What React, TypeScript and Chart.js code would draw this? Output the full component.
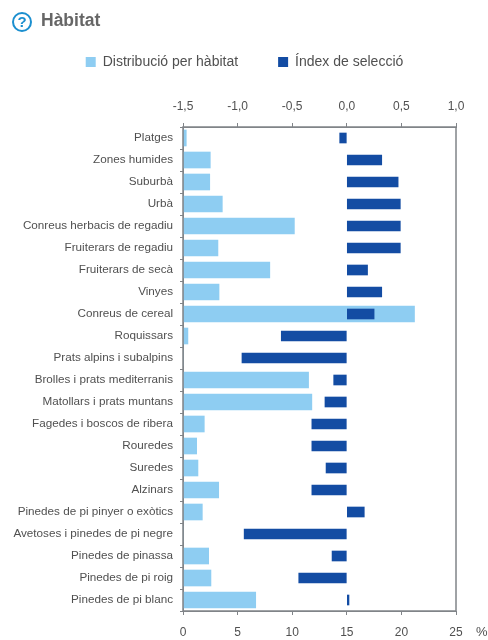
import React, { useEffect, useRef } from "react";
import { Chart, registerables } from "chart.js";

Chart.register(...registerables);

const categories = [
  "Platges", "Zones humides", "Suburbà", "Urbà", "Conreus herbacis de regadiu",
  "Fruiterars de regadiu", "Fruiterars de secà", "Vinyes", "Conreus de cereal",
  "Roquissars", "Prats alpins i subalpins", "Brolles i prats mediterranis",
  "Matollars i prats muntans", "Fagedes i boscos de ribera", "Rouredes", "Suredes",
  "Alzinars", "Pinedes de pi pinyer o exòtics", "Avetoses i pinedes de pi negre",
  "Pinedes de pinassa", "Pinedes de pi roig", "Pinedes de pi blanc",
];
const distribucio = [0.3, 2.5, 2.45, 3.6, 10.2, 3.2, 7.95, 3.3, 21.2, 0.45, 0, 11.5, 11.8, 1.95, 1.25, 1.37, 3.27, 1.77, 0, 2.35, 2.56, 6.66];
const index = [-0.065, 0.32, 0.47, 0.49, 0.49, 0.49, 0.19, 0.32, 0.25, -0.6, -0.96, -0.12, -0.2, -0.32, -0.32, -0.19, -0.32, 0.16, -0.94, -0.135, -0.44, 0.02];
const bottomTicks = ["0", "5", "10", "15", "20", "25"];
const topTicks = ["-1,5", "-1,0", "-0,5", "0,0", "0,5", "1,0"];

const LIGHT = "#8ECDF2";
const DARK = "#134CA3";
const AXIS = "#808488";
const TEXT = "#505050";
const FONT = "'Liberation Sans', Arial, sans-serif";

const frame = {
  id: "frame",
  afterLayout(chart: any) {
    // the legend is centred over the plot, not over the whole canvas
    chart.legend.left = 33;
  },
  afterDatasetsDraw(chart: any) {
    const { ctx, chartArea: a } = chart;
    ctx.save();
    ctx.strokeStyle = AXIS;
    ctx.lineWidth = 1.5;
    ctx.strokeRect(a.left, a.top, a.right - a.left, a.bottom - a.top);
    ctx.restore();
  },
};

export default function App() {
  const ref = useRef<HTMLCanvasElement>(null);
  useEffect(() => {
    const chart = new Chart(ref.current!, {
      type: "bar",
      plugins: [frame],
      data: {
        labels: categories,
        datasets: [
          { label: "Distribució per hàbitat", data: distribucio, backgroundColor: LIGHT, xAxisID: "x", order: 2, barThickness: 16, grouped: false },
          { label: "Índex de selecció", data: index, backgroundColor: DARK, xAxisID: "x2", order: 1, barThickness: 10, grouped: false },
        ] as any,
      },
      options: {
        indexAxis: "y",
        animation: false,
        responsive: false,
        layout: { padding: { top: 15, left: 0, right: 32, bottom: 0 } },
        plugins: {
          tooltip: { enabled: false },
          legend: {
            position: "top",
            onClick: () => {},
            labels: {
              boxWidth: 10,
              boxHeight: 10,
              padding: 40,
              color: TEXT,
              font: { family: FONT, size: 14 },
              sort: (a: any, b: any) => a.datasetIndex - b.datasetIndex,
            },
          },
        },
        scales: {
          x: {
            position: "bottom",
            min: 0,
            max: 25,
            afterFit: (s: any) => { s.height = 29; },
            ticks: {
              stepSize: 5,
              padding: 10,
              color: TEXT,
              maxRotation: 0,
              font: { family: FONT, size: 12 },
              callback: (_v: any, i: number) => bottomTicks[i],
            },
            grid: { drawOnChartArea: false, tickLength: 4, color: AXIS },
            border: { color: AXIS },
          },
          x2: {
            position: "top",
            min: -1.5,
            max: 1,
            afterFit: (s: any) => { s.height = 48; },
            ticks: {
              stepSize: 0.5,
              padding: 9,
              color: TEXT,
              maxRotation: 0,
              font: { family: FONT, size: 12 },
              callback: (_v: any, i: number) => topTicks[i],
            },
            grid: { drawOnChartArea: false, tickLength: 4, color: AXIS },
            border: { color: AXIS },
          },
          y: {
            afterFit: (s: any) => { s.width = 183; },
            ticks: {
              autoSkip: false,
              padding: 7,
              color: TEXT,
              font: { family: FONT, size: 11.7 },
            },
            grid: { drawOnChartArea: false, tickLength: 3, color: AXIS },
            border: { color: AXIS },
          },
        },
      } as any,
    });
    return () => chart.destroy();
  }, []);

  return (
    <div style={{ position: "absolute", left: 0, top: 0, width: 488, height: 640, background: "#fff", overflow: "hidden", filter: "blur(0.45px)" }}>
      <canvas ref={ref} width={488} height={640} style={{ position: "absolute", left: 0, top: 0, display: "block" }} />
      <div style={{ position: "absolute", left: 12, top: 12, width: 16, height: 16, border: "2.5px solid #1B8FCF", borderRadius: "50%", color: "#1B8FCF", font: `bold 15px/16px ${FONT}`, textAlign: "center" }}>?</div>
      <div style={{ position: "absolute", left: 41, top: 10, color: "#666", font: `bold 17.5px/20px ${FONT}` }}>Hàbitat</div>
      <div style={{ position: "absolute", left: 476, top: 625, color: TEXT, font: `13px/14px ${FONT}` }}>%</div>
    </div>
  );
}
